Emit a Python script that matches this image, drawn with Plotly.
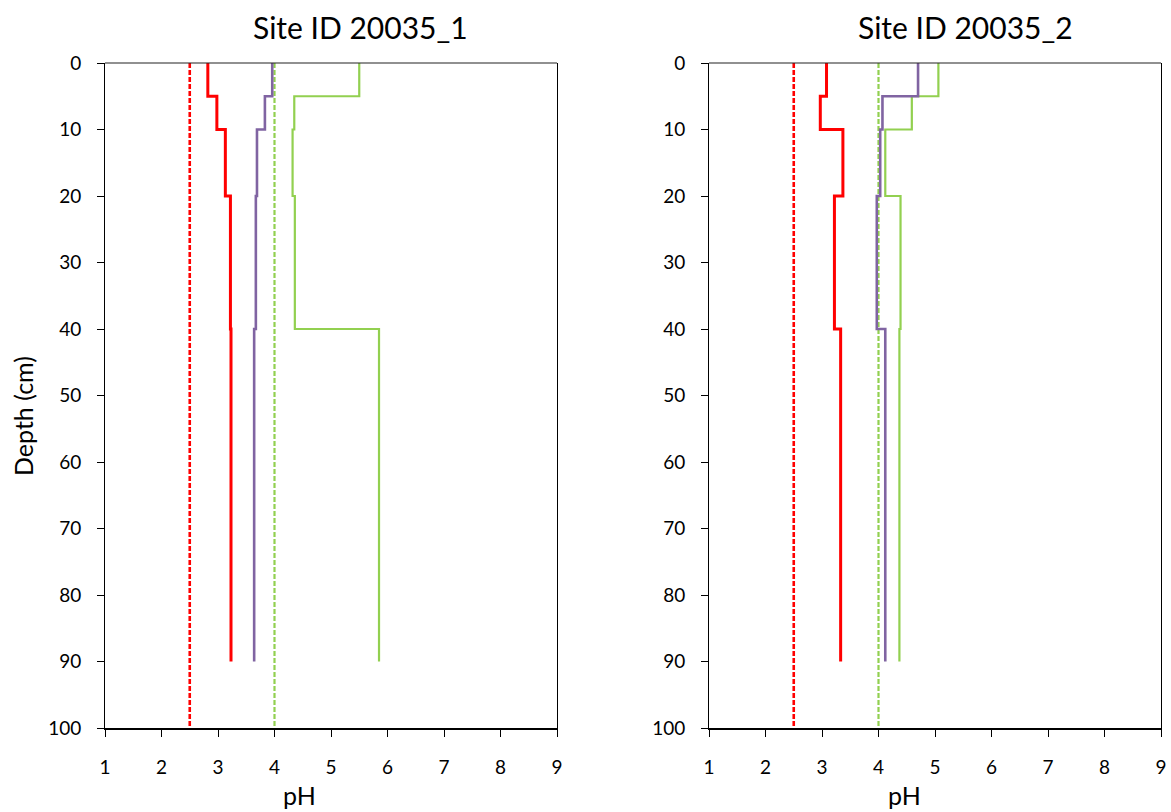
import plotly.graph_objects as go

# ---------------- data ----------------
depth_tops = [0, 5, 10, 20, 40]
depth_bottom = 90

site1_red = [2.82, 2.98, 3.13, 3.22, 3.23]
site1_purple = [3.96, 3.83, 3.69, 3.67, 3.64]
site1_green = [5.50, 4.35, 4.32, 4.36, 5.85]

site2_red = [3.08, 2.97, 3.37, 3.22, 3.33]
site2_purple = [4.70, 4.07, 4.03, 3.97, 4.12]
site2_green = [5.06, 4.59, 4.12, 4.39, 4.37]

red_ref = 2.5
green_ref = 4.0

titles = ["Site ID 20035_1", "Site ID 20035_2"]

RED = "#FF0000"
PURPLE = "#8064A2"
GREEN = "#92D050"
FONT = "Lato"

W, H = 1171, 812

fig = go.Figure()


def step_xy(vals):
    xs = list(vals) + [vals[-1]]
    ys = list(depth_tops) + [depth_bottom]
    return xs, ys


sites = [
    (site1_red, site1_purple, site1_green),
    (site2_red, site2_purple, site2_green),
]

for i, (r, p, g) in enumerate(sites):
    xa = "x" if i == 0 else "x2"
    ya = "y" if i == 0 else "y2"
    # reference lines
    fig.add_trace(go.Scatter(x=[red_ref, red_ref], y=[0, 100], mode="lines",
                             line=dict(color=RED, width=2.6, dash="5px,2px"),
                             xaxis=xa, yaxis=ya, showlegend=False))
    fig.add_trace(go.Scatter(x=[green_ref, green_ref], y=[0, 100], mode="lines",
                             line=dict(color=GREEN, width=2.2, dash="5px,2px"),
                             xaxis=xa, yaxis=ya, showlegend=False))
    for vals, col, w in [(g, GREEN, 2.2), (p, PURPLE, 2.6), (r, RED, 3)]:
        xs, ys = step_xy(vals)
        fig.add_trace(go.Scatter(x=xs, y=ys, mode="lines",
                                 line=dict(color=col, width=w, shape="vh"),
                                 xaxis=xa, yaxis=ya, showlegend=False))

x1d = [105 / W, 557 / W]
x2d = [709 / W, 1161 / W]
yd = [(H - 728) / H, (H - 63) / H]

xcommon = dict(range=[1, 9], dtick=1, tick0=1, showgrid=False, zeroline=False,
               automargin=False,
               ticks="outside", ticklen=7, tickcolor="black", tickwidth=1,
               showline=True, linecolor="black", linewidth=2, mirror=False,
               tickfont=dict(family=FONT, size=19, color="black"),
               ticklabelstandoff=14)
ycommon = dict(range=[100, 0], dtick=10, tick0=0, showgrid=False, zeroline=False,
               automargin=False,
               ticks="outside", ticklen=7, tickcolor="black", tickwidth=1,
               showline=True, linecolor="black", linewidth=1, mirror=True,
               tickfont=dict(family=FONT, size=19, color="black"),
               ticklabelstandoff=12)

fig.update_layout(
    width=W, height=H,
    margin=dict(l=0, r=0, t=0, b=0, autoexpand=False),
    paper_bgcolor="white", plot_bgcolor="white",
    xaxis=dict(domain=x1d, anchor="y", **xcommon),
    yaxis=dict(domain=yd, anchor="x", **ycommon),
    xaxis2=dict(domain=x2d, anchor="y2", **xcommon),
    yaxis2=dict(domain=yd, anchor="x2", **ycommon),
    font=dict(family=FONT, color="black"),
)

# thin top frame line of each plot area
shapes = []
for xr, yr in [("x domain", "y domain"), ("x2 domain", "y2 domain")]:
    shapes.append(dict(type="line", xref=xr, yref=yr, x0=0, x1=1, y0=1, y1=1,
                       line=dict(color="#222222", width=1.2)))
fig.update_layout(shapes=shapes)

ann = []
for cx, t in [(360, titles[0]), (965, titles[1])]:
    ann.append(dict(x=cx / W, y=(H - 27) / H, xref="paper", yref="paper",
                    text=t, showarrow=False, xanchor="center", yanchor="middle",
                    font=dict(family=FONT, size=30, color="black")))
for cx in [300, 904]:
    ann.append(dict(x=cx / W, y=0, xref="paper", yref="paper",
                    text="pH", showarrow=False, xanchor="center", yanchor="bottom",
                    font=dict(family=FONT, size=25, color="black")))
ann.append(dict(x=23 / W, y=(H - 416) / H, xref="paper", yref="paper",
                text="Depth (cm)", showarrow=False, textangle=-90,
                xanchor="center", yanchor="middle",
                font=dict(family=FONT, size=25, color="black")))
fig.update_layout(annotations=ann)

fig.write_html("out.html")
